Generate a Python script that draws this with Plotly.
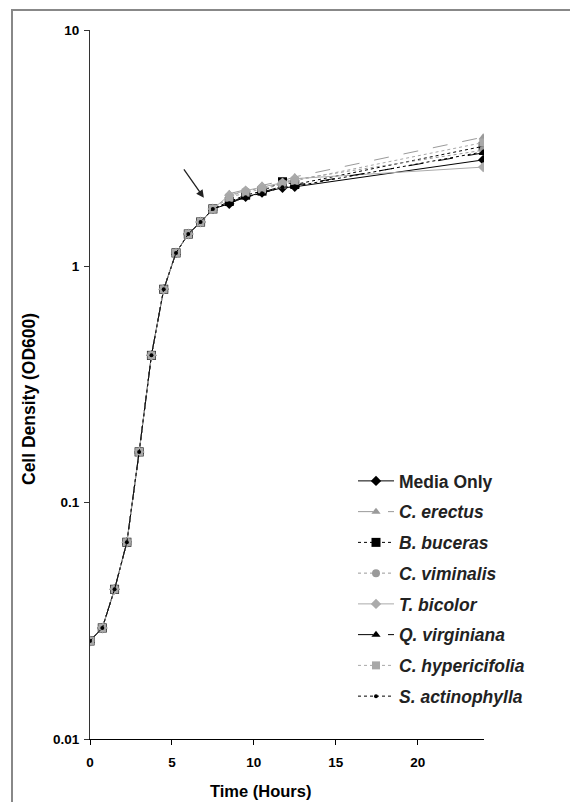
import math
import plotly.graph_objects as go

# ---- data ----
time_h = [0, 0.75, 1.5, 2.25, 3, 3.75, 4.5, 5.25, 6, 6.75, 7.5, 8.5, 9.5, 10.5, 11.75, 12.5, 24]
early = [0.026, 0.0295, 0.043, 0.068, 0.164, 0.42, 0.80, 1.14, 1.37, 1.54, 1.75]

media_only = early + [1.84, 1.97, 2.05, 2.15, 2.17, 2.82]
c_erectus = early + [2.03, 2.11, 2.20, 2.30, 2.39, 3.52]
b_buceras = early + [1.88, 2.00, 2.08, 2.28, 2.22, 3.22]
c_viminalis = early + [1.98, 2.08, 2.15, 2.24, 2.33, 3.10]
t_bicolor = early + [2.00, 2.09, 2.17, 2.26, 2.35, 2.63]
q_virginiana = early + [1.86, 1.98, 2.06, 2.18, 2.20, 3.02]
c_hypericifolia = early + [1.95, 2.05, 2.12, 2.22, 2.30, 3.34]
s_actinophylla = early + [1.85, 1.96, 2.04, 2.16, 2.18, 3.05]

series_names = ["<b>Media Only</b>", "<b><i>C. erectus</i></b>", "<b><i>B. buceras</i></b>",
                "<b><i>C. viminalis</i></b>", "<b><i>T. bicolor</i></b>", "<b><i>Q. virginiana</i></b>",
                "<b><i>C. hypericifolia</i></b>", "<b><i>S. actinophylla</i></b>"]
series_values = [media_only, c_erectus, b_buceras, c_viminalis, t_bicolor,
                 q_virginiana, c_hypericifolia, s_actinophylla]

y_tick_vals = [0.01, 0.1, 1, 10]
y_tick_text = ["<b>0.01</b>", "<b>0.1</b>", "<b>1</b>", "<b>10</b>"]
x_tick_vals = [0, 5, 10, 15, 20]
x_tick_text = ["<b>0</b>", "<b>5</b>", "<b>10</b>", "<b>15</b>", "<b>20</b>"]

# ---- styles ----
styles = [
    dict(color="#000000", dash="solid", symbol="diamond", size=8),
    dict(color="#9a9a9a", dash="longdash", symbol="triangle-up", size=8),
    dict(color="#000000", dash="3px,3px", symbol="square", size=9),
    dict(color="#9a9a9a", dash="dot", symbol="circle", size=8),
    dict(color="#ababab", dash="solid", symbol="diamond", size=8),
    dict(color="#000000", dash="longdash", symbol="triangle-up", size=8),
    dict(color="#a8a8a8", dash="3px,3px", symbol="square", size=8),
    dict(color="#000000", dash="dot", symbol="circle", size=4),
]

FONT = "Liberation Sans, Arial, sans-serif"
fig = go.Figure()
for i, (name, vals, st) in enumerate(zip(series_names, series_values, styles)):
    fig.add_trace(go.Scatter(
        x=time_h, y=vals, name=name, mode="lines+markers",
        legendgroup=f"g{i}",
        line=dict(color=st["color"], dash=st["dash"], width=1),
        marker=dict(color=st["color"], symbol=st["symbol"], size=st["size"], line=dict(width=0)),
    ))

# page offset of the figure inside the browser (body margin)
OFF = 7
W, H = 578 - OFF - 1, 802 - OFF - 1
# plot area in screen px: x 89..483, y 30..739
L, R, T, B = 89 - OFF, 483 - OFF, 29 - OFF, 738 - OFF
def px(xp):
    return (xp - OFF - L) / (R - L)
def py(yp):
    return (B - (yp - OFF)) / (B - T)

fig.update_layout(
    width=W, height=H,
    margin=dict(l=L, r=W - R, t=T, b=H - B),
    paper_bgcolor="white", plot_bgcolor="white",
    font=dict(family=FONT, color="#000000"),
    showlegend=True,
    legend=dict(x=px(352), y=py(462), xanchor="left", yanchor="top",
                font=dict(size=17.5, family=FONT, color="#222222"),
                tracegroupgap=5.0, itemwidth=36, bgcolor="rgba(0,0,0,0)",
                traceorder="grouped"),
    xaxis=dict(range=[0, 24.05], tickvals=x_tick_vals, ticktext=x_tick_text,
               showgrid=False, zeroline=False,
               showline=True, linecolor="#000000", linewidth=1,
               ticks="outside", ticklen=5, tickcolor="#000000",
               tickfont=dict(size=13.5, family=FONT), ticklabelstandoff=6),
    yaxis=dict(type="log", range=[-2, 1], tickvals=y_tick_vals, ticktext=y_tick_text,
               showgrid=False, zeroline=False, showline=True, linecolor="#333333",
               linewidth=1, ticks="outside", ticklen=5, tickcolor="#333333",
               tickfont=dict(size=13.5, family=FONT), ticklabelstandoff=2),
)

# axis titles
fig.add_annotation(text="<b>Time (Hours)</b>", xref="paper", yref="paper",
                   x=px(259), y=py(790), xanchor="center", yanchor="middle",
                   showarrow=False, font=dict(size=16.5, family=FONT))
fig.add_annotation(text="<b>Cell Density (OD600)</b>", xref="paper", yref="paper",
                   x=px(28), y=py(398), xanchor="center", yanchor="middle",
                   showarrow=False, textangle=-90,
                   font=dict(size=17.5, family=FONT))

# arrow pointing at the transition
fig.add_annotation(x=6.95, y=math.log10(1.95), xref="x", yref="y", text="",
                   showarrow=True, ax=-21, ay=-30, arrowhead=2, arrowsize=1.2,
                   arrowwidth=1.3, arrowcolor="#222222")

# outer frame
fig.add_shape(type="rect", xref="paper", yref="paper",
              x0=px(11), x1=px(620), y0=py(850), y1=py(9),
              line=dict(color="#888888", width=2), fillcolor="rgba(0,0,0,0)", layer="below")

fig.write_html("out.html")
